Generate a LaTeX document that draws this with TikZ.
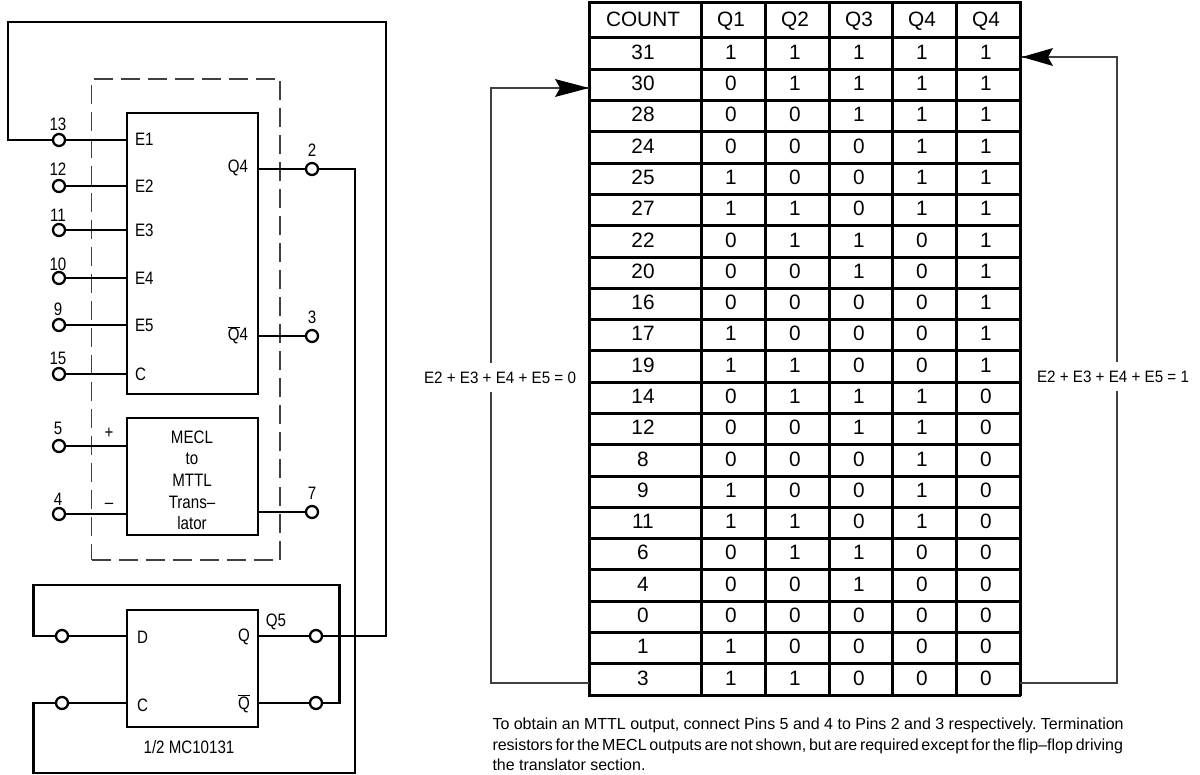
\documentclass[tikz,border=0pt]{standalone}
\usepackage{fontspec}
\setmainfont{Liberation Sans}
\newfontfamily\condf[FakeStretch=0.84]{Liberation Sans}
\newfontfamily\eqf[FakeStretch=0.92]{Liberation Sans}
\usetikzlibrary{arrows.meta,calc}
\newcommand{\ovq}[1]{\ensuremath{\overline{\hbox{#1}}}}
\frenchspacing
\tikzset{
  x=1pt,y=-1pt,
  wire/.style={line width=2.3pt,line join=miter},
  thinw/.style={line width=1.1pt,draw=black!75},
  pin/.style={circle,draw,line width=2.3pt,fill=white,inner sep=0pt,minimum size=12pt,outer sep=0pt},
  blockbox/.style={draw,line width=2.3pt,inner sep=0pt,outer sep=0pt},
  lab/.style={inner sep=0pt,outer sep=0pt,font=\condf\fontsize{18}{20}\selectfont},
  eqlab/.style={inner sep=0pt,outer sep=0pt,font=\eqf\fontsize{16.5}{20}\selectfont,fill=white,minimum height=29pt,inner xsep=2pt},
  tab/.style={inner sep=0pt,outer sep=0pt,anchor=base,font=\fontsize{20.8}{24}\selectfont},
  notes/.style={inner sep=0pt,outer sep=0pt,anchor=base west,font=\fontsize{16}{18}\selectfont},
}
\begin{document}
\begin{tikzpicture}
\useasboundingbox (0,0) rectangle (1200,775);
% dashed package
\node[draw=black!75,line width=1.1pt,dash pattern=on 19pt off 8pt,minimum width=188.5pt,minimum height=481pt,inner sep=0pt] (pkg) at (185.75,319.5) {};
% blocks
\node[blockbox,minimum width=131pt,minimum height=281pt] (cnt) at (192.5,253.5) {};
\node[blockbox,minimum width=131pt,minimum height=117pt] (trn) at (192.5,476.5) {};
\node[blockbox,minimum width=131pt,minimum height=117pt] (ff) at (192.5,668.5) {};
% pins
\node[pin] (p13) at (59,140) {};
\node[pin] (p12) at (59,186) {};
\node[pin] (p11) at (59,230) {};
\node[pin] (p10) at (59,278) {};
\node[pin] (p9) at (59,325) {};
\node[pin] (p15) at (59,374) {};
\node[pin] (p5) at (59,446) {};
\node[pin] (p4) at (59,514) {};
\node[pin] (p2) at (312,169) {};
\node[pin] (p3) at (312,336) {};
\node[pin] (p7) at (312,512) {};
\node[pin] (fd) at (62,636) {};
\node[pin] (fc) at (62,703) {};
\node[pin] (fq) at (316,636) {};
\node[pin] (fn) at (316,703) {};
% routing points
\coordinate (a1) at (8,140);
\coordinate (a2) at (8,22);
\coordinate (a3) at (386,22);
\coordinate (a4) at (386,636);
\coordinate (b1) at (355,169);
\coordinate (b2) at (355,773);
\coordinate (b3) at (33.5,773);
\coordinate (b4) at (33.5,703);
\coordinate (c1) at (339.5,703);
\coordinate (c2) at (339.5,585);
\coordinate (c3) at (33.5,585);
\coordinate (c4) at (33.5,636);
% wires
\foreach \p in {p13,p12,p11,p10,p9,p15,p5,p4}
  \draw[wire] (\p.east) -- (\p.east -| cnt.west);
\foreach \p in {p2,p3,p7}
  \draw[wire] (\p.west) -- (\p.west -| cnt.east);
\draw[wire] (fd.east) -- (fd.east -| ff.west);
\draw[wire] (fc.east) -- (fc.east -| ff.west);
\draw[wire] (fq.west) -- (fq.west -| ff.east);
\draw[wire] (fn.west) -- (fn.west -| ff.east);
\draw[wire] (p13.west) -- (a1) -- (a2) -- (a3) -- (a4) -- (fq.east);
\draw[wire] (p2.east) -- (b1) -- (b2) -- (b3) -- (b4) -- (fc.west);
\draw[wire] (fn.east) -- (c1) -- (c2) -- (c3) -- (c4) -- (fd.west);
% pin numbers
\node[lab] (n13) at (58,124) {13};
\node[lab] (n12) at (58,169) {12};
\node[lab] (n11) at (58,215) {11};
\node[lab] (n10) at (58,264) {10};
\node[lab] (n9) at (58,309) {9};
\node[lab] (n15) at (58,358) {15};
\node[lab] (n5) at (58,428) {5};
\node[lab] (n4) at (58,499) {4};
\node[lab] (n2) at (312,150) {2};
\node[lab] (n3) at (312,317) {3};
\node[lab] (n7) at (312,493) {7};
% block labels
\node[lab,anchor=west] (e1) at (135,139) {E1};
\node[lab,anchor=west] (e2) at (135,186) {E2};
\node[lab,anchor=west] (e3) at (135,230) {E3};
\node[lab,anchor=west] (e4) at (135,278) {E4};
\node[lab,anchor=west] (e5) at (135,325) {E5};
\node[lab,anchor=west] (cc) at (135,374) {C};
\node[lab,anchor=east] (q4) at (248,168) {Q4};
\node[lab,anchor=base east] (q4n) at (248,341) {\ovq{Q}4};
\node[lab] (plus) at (109,433) {+};
\node[lab] (minus) at (109,506) {–};
\node[lab] (t1) at (192,437) {MECL};
\node[lab] (t2) at (192,459) {to};
\node[lab] (t3) at (192,480) {MTTL};
\node[lab] (t4) at (192,502) {Trans–};
\node[lab] (t5) at (192,523) {lator};
\node[lab,anchor=west] (dl) at (137,637) {D};
\node[lab,anchor=west] (cl) at (137,705) {C};
\node[lab,anchor=east] (ql) at (250,637) {Q};
\node[lab,anchor=base east] (qn) at (250,709) {\ovq{Q}};
\node[lab] (q5) at (276,622) {Q5};
\node[lab] (mc) at (189,747) {1/2 MC10131};
% table grid
\foreach \x in {589,701,765,829,892.5,956.5,1020}
  \draw[line width=3pt] (\x,1) -- (\x,696);
\draw[line width=3pt] (588,3) -- (1021,3);
\foreach \r in {0,...,20}
  \draw[line width=3pt] (588,38+31.29*\r) -- (1021,38+31.29*\r);
\draw[line width=3pt] (588,695) -- (1021,695);
% table cells
\foreach \a/\b/\c/\d/\e/\f [count=\r from 0] in {
  COUNT/Q1/Q2/Q3/Q4/Q4,
  31/1/1/1/1/1, 30/0/1/1/1/1, 28/0/0/1/1/1, 24/0/0/0/1/1, 25/1/0/0/1/1,
  27/1/1/0/1/1, 22/0/1/1/0/1, 20/0/0/1/0/1, 16/0/0/0/0/1, 17/1/0/0/0/1,
  19/1/1/0/0/1, 14/0/1/1/1/0, 12/0/0/1/1/0, 8/0/0/0/1/0, 9/1/0/0/1/0,
  11/1/1/0/1/0, 6/0/1/1/0/0, 4/0/0/1/0/0, 0/0/0/0/0/0, 1/1/0/0/0/0, 3/1/1/0/0/0}
{
  \pgfmathsetmacro{\yy}{\r==0 ? 27 : 59.3+31.29*(\r-1)}
  \node[tab] (c\r-0) at (643,\yy) {\a};
  \node[tab] (c\r-1) at (731,\yy) {\b};
  \node[tab] (c\r-2) at (795,\yy) {\c};
  \node[tab] (c\r-3) at (859,\yy) {\d};
  \node[tab] (c\r-4) at (922,\yy) {\e};
  \node[tab] (c\r-5) at (986,\yy) {\f};
}
% feedback arrows
\coordinate (lb) at (589,683);
\coordinate (lc) at (491,683);
\coordinate (ld) at (491,88);
\coordinate (lt) at (589,88);
\coordinate (rb) at (1020,683);
\coordinate (rc) at (1117,683);
\coordinate (rd) at (1117,57);
\coordinate (rt) at (1022,57);
\draw[thinw] (lb) -- (lc) -- (ld) -- (lt);
\draw[thinw] (rb) -- (rc) -- (rd) -- (rt);
\fill (lt) -- ++(-34,-9) -- ++(5,9) -- ++(-5,9) -- cycle;
\fill (rt) -- ++(31,-9) -- ++(-5,9) -- ++(5,9) -- cycle;
\node[eqlab,anchor=east] (eq0) at (578,377.5) {E2 + E3 + E4 + E5 = 0};
\node[eqlab,anchor=east] (eq1) at (1191,376.5) {\raisebox{-3.5pt}{E2 + E3 + E4 + E5 = 1}};
% note
\node[notes] (l1) at (492.5,729) {To obtain an MTTL output, connect Pins 5 and 4 to Pins 2 and 3 respectively. Termination};
\node[notes] (l2) at (492.5,750) {\spaceskip=0.174em resistors for the MECL outputs are not shown, but are required except for the flip–flop driving};
\node[notes] (l3) at (492.5,770) {the translator section.};
\end{tikzpicture}
\end{document}
